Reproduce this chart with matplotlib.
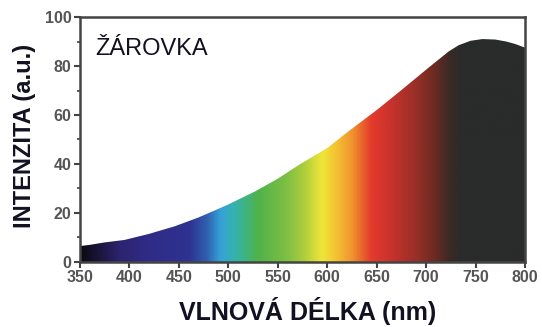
import matplotlib
matplotlib.use("Agg")
import matplotlib.pyplot as plt
import numpy as np
from matplotlib.colors import LinearSegmentedColormap

# incandescent bulb spectrum
wavelength = [350, 360, 375, 395, 420, 446, 470, 486, 500, 527, 550, 572, 600,
              622, 650, 673, 703, 723, 733, 745, 757, 770, 781, 790, 800]
intensity = [6.5, 7, 8, 9, 11.5, 14.6, 18.2, 21, 23.5, 28.8, 34, 39.8, 46.5,
             53.5, 62, 69.5, 79.5, 86, 88.5, 90.3, 91, 90.8, 90, 89, 87.5]

# colour of visible light along the wavelength axis
spec_nm = [350, 370, 390, 420, 460, 478, 492, 505, 515, 530, 560, 575, 595,
           610, 625, 645, 665, 690, 710, 725, 735, 800]
spec_col = ['#0a0a10', '#1c1640', '#2c2470', '#302c88', '#2e3290', '#3060b0',
            '#36a2d8', '#34b2b0', '#3cb488', '#50b24a', '#80c044', '#a8cc3c',
            '#f0e63a', '#f4c032', '#f0962e', '#e43a2c', '#c8322c', '#983028',
            '#6a2a22', '#3a2a26', '#2a2b2b', '#2a2b2b']

x_ticks = [350, 400, 450, 500, 550, 600, 650, 700, 750, 800]
y_ticks = [0, 20, 40, 60, 80, 100]

lo, hi = spec_nm[0], spec_nm[-1]
cmap = LinearSegmentedColormap.from_list(
    'spectrum', [((n - lo) / (hi - lo), c) for n, c in zip(spec_nm, spec_col)])

fig = plt.figure(figsize=(5.42, 3.27), dpi=100)
ax = fig.add_axes([0.1476, 0.1988, 0.8210, 0.7492])

area = ax.fill_between(wavelength, 0, intensity, facecolor='none', edgecolor='none')
grad = np.linspace(lo, hi, 900).reshape(1, -1)
img = ax.imshow(grad, cmap=cmap, extent=[lo, hi, 0, 100], aspect='auto',
                origin='lower', interpolation='bilinear', zorder=1)
img.set_clip_path(area.get_paths()[0], transform=ax.transData)

ax.set_xlim(350, 800)
ax.set_ylim(0, 100)
ax.set_xticks(x_ticks)
ax.set_yticks(y_ticks)
ax.set_yticks(range(10, 100, 20), minor=True)

for s in ax.spines.values():
    s.set_color('#444444')
    s.set_linewidth(1.8)
ax.tick_params(which='major', length=4, width=1.5, color='#444444',
               labelsize=11.5, labelcolor='#555555', pad=2)
ax.tick_params(which='minor', length=2.5, width=1.2, color='#444444')
for lab in ax.get_xticklabels() + ax.get_yticklabels():
    lab.set_fontfamily('Liberation Sans')
    lab.set_fontweight('bold')

ax.text(0.034, 0.87, 'ŽÁROVKA', transform=ax.transAxes, fontsize=17,
        family='Liberation Sans', color='#111122', va='center', ha='left')

fig.text(0.046, 0.583, 'INTENZITA (a.u.)', rotation=90, ha='center', va='center',
         fontsize=17, fontweight='bold', family='Liberation Sans', color='#111122')
fig.text(0.567, 0.049, 'VLNOVÁ DÉLKA (nm)', ha='center', va='center',
         fontsize=18, fontweight='bold', family='Liberation Sans', color='#111122')

fig.savefig('out.png', dpi=100)
